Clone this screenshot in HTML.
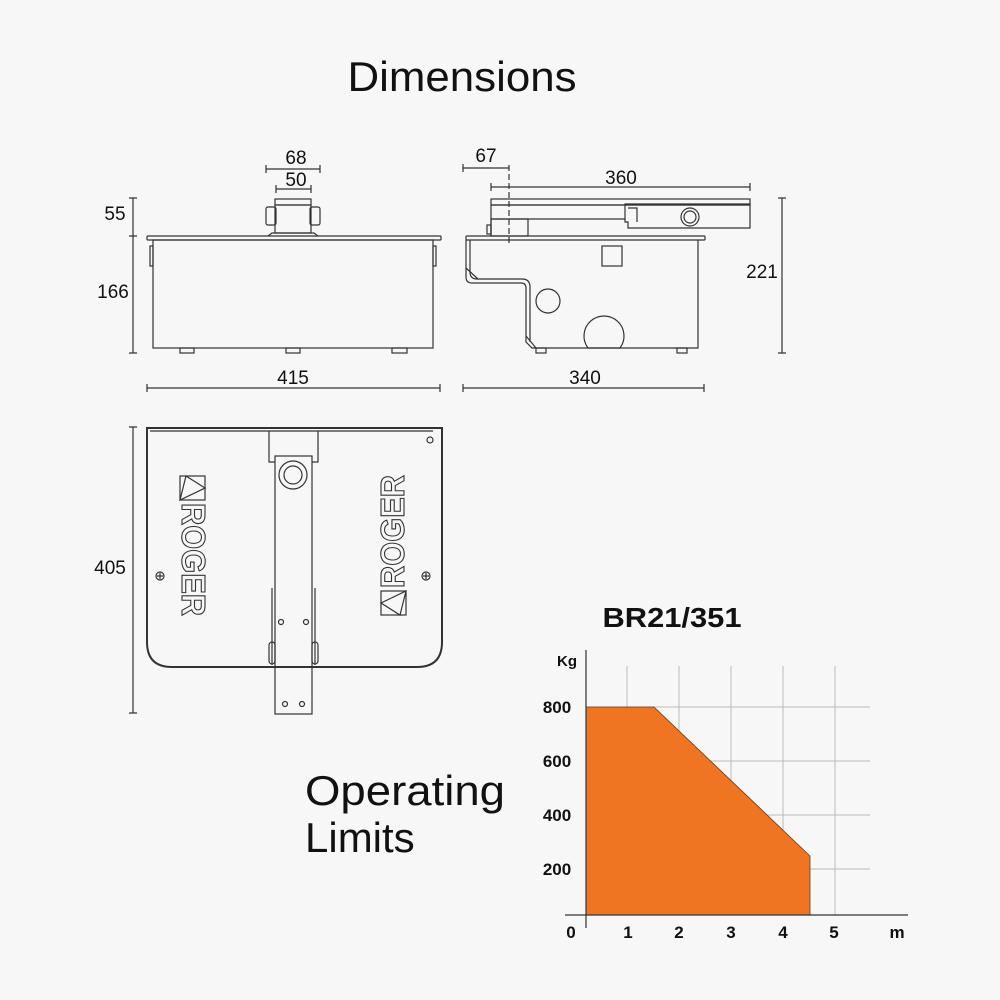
<!DOCTYPE html>
<html><head><meta charset="utf-8"><style>
html,body{margin:0;padding:0;background:#f7f7f7;}
svg{display:block;}
text{font-family:"Liberation Sans",sans-serif;}
</style></head><body>
<svg width="1000" height="1000" viewBox="0 0 1000 1000" xmlns="http://www.w3.org/2000/svg">
<rect width="1000" height="1000" fill="#f7f7f7"/>
<text x="462" y="91" font-size="42" text-anchor="middle" fill="#111" textLength="229" lengthAdjust="spacingAndGlyphs">Dimensions</text>

<g stroke="#333" stroke-width="1.2" fill="none">
<!-- FRONT VIEW -->
<rect x="147" y="236" width="294" height="4" rx="1"/>
<rect x="153" y="240" width="280" height="108"/>
<rect x="150" y="246" width="3" height="20"/>
<rect x="433" y="246" width="3" height="20"/>
<rect x="180" y="348" width="14" height="5"/>
<rect x="286" y="348" width="14" height="5"/>
<rect x="392" y="348" width="15" height="5"/>
<rect x="275" y="199" width="36" height="6"/>
<rect x="275" y="205" width="36" height="28"/>
<rect x="266" y="207" width="10" height="18" rx="2"/>
<rect x="310" y="207" width="10" height="18" rx="2"/>
<path d="M268 236 L272 233 L314 233 L318 236"/>
<path d="M133 198 V353 M129 198 H137 M129 236 H137 M129 353 H137"/>
<path d="M147 388 H440 M147 384 V392 M440 384 V392"/>
<path d="M266 169 H320 M266 165 V173 M320 165 V173"/>
<path d="M276 189 H311 M276 185 V193 M311 185 V193"/>

<!-- SIDE VIEW -->
<rect x="466" y="236" width="239" height="4" rx="1"/>
<path d="M698 240 V348 H532 L526 342 V288 Q526 283 521 283 H472 Q466 283 466 277 V240"/>
<path d="M470 240 V272 Q470 279 477 279 H522 Q530 279 530 287 V342"/>
<path d="M466 268 L478 279 M526 336 L536 348"/>
<rect x="536" y="348" width="10" height="5"/>
<rect x="677" y="348" width="10" height="5"/>
<rect x="602" y="246" width="20" height="20"/>
<circle cx="548" cy="301" r="12"/>
<path d="M588 348 A20 20 0 1 1 620 348 Z"/>
<rect x="491" y="199" width="259" height="6"/>
<path d="M491 205 V236 M491 219 H625 M491 205 H750"/>
<rect x="491" y="219" width="37" height="17"/>
<rect x="487" y="225" width="4" height="9"/>
<path d="M625 204 H750 V228 H628 V222 H625 Z"/>
<path d="M628 208 H637 V222"/>
<circle cx="690" cy="217" r="9"/>
<circle cx="690" cy="217" r="6"/>
<path d="M509 165 V245" stroke-dasharray="6 3"/>
<path d="M463 168 H509 M463 164 V172"/>
<path d="M491 187 H750 M491 183 V191 M750 183 V191"/>
<path d="M782 198 V353 M778 198 H786 M778 353 H786"/>
<path d="M463 388 H704 M463 384 V392 M704 384 V392"/>

<!-- TOP VIEW -->
<path d="M147 428 V642 Q147 667 172 667 H417 Q442 667 442 642 V428 Z" stroke-width="2"/>
<path d="M150 431 H433"/>
<path d="M133 427 V713 M129 427 H137 M129 713 H137"/>
<path d="M269 431 V462 H275 M318 431 V462 H312"/>
<rect x="275" y="456" width="37" height="258"/>
<circle cx="293" cy="475" r="14"/>
<circle cx="293" cy="475" r="9"/>
<path d="M272 588 V665 M315 588 V665"/>
<rect x="269" y="642" width="6" height="22" rx="3"/>
<rect x="312" y="642" width="6" height="22" rx="3"/>
<circle cx="281" cy="622" r="2.5"/><circle cx="306" cy="622" r="2.5"/>
<circle cx="285" cy="704" r="2.5"/><circle cx="302" cy="704" r="2.5"/>
<circle cx="160" cy="576" r="4"/><path d="M157 576 H163 M160 573 V579"/>
<circle cx="426" cy="576" r="4"/><path d="M423 576 H429 M426 573 V579"/>
<circle cx="430" cy="440" r="3"/>
<rect x="180" y="476" width="25" height="24"/>
<path d="M180 500 L186 476 L205 488 Z"/>
<rect x="381" y="591" width="25" height="24"/>
<path d="M406 591 L400 615 L381 603 Z"/>
</g>
<text transform="translate(182,503) rotate(90)" font-size="33" font-weight="bold" style="fill:none;stroke:#333;stroke-width:1.1" textLength="113" lengthAdjust="spacingAndGlyphs">ROGER</text>
<text transform="translate(404,588) rotate(-90)" font-size="33" font-weight="bold" style="fill:none;stroke:#333;stroke-width:1.1" textLength="113" lengthAdjust="spacingAndGlyphs">ROGER</text>

<g font-size="19" fill="#111">
<text x="115" y="220" text-anchor="middle">55</text>
<text x="113" y="298" text-anchor="middle">166</text>
<text x="293" y="384" text-anchor="middle">415</text>
<text x="296" y="164" text-anchor="middle">68</text>
<text x="296" y="186" text-anchor="middle">50</text>
<text x="486" y="162" text-anchor="middle">67</text>
<text x="621" y="184" text-anchor="middle">360</text>
<text x="762" y="278" text-anchor="middle">221</text>
<text x="585" y="384" text-anchor="middle">340</text>
<text x="110" y="574" text-anchor="middle">405</text>
</g>

<text x="305" y="805" font-size="42" fill="#111" textLength="200" lengthAdjust="spacingAndGlyphs">Operating</text>
<text x="305" y="852" font-size="42" fill="#111">Limits</text>
<text x="672" y="627" font-size="28" font-weight="bold" text-anchor="middle" fill="#111" textLength="139" lengthAdjust="spacingAndGlyphs">BR21/351</text>

<!-- CHART -->
<g stroke="#bbb" stroke-width="1" fill="none">
<path d="M627 666 V915 M679 666 V915 M731 666 V915 M783 666 V915 M835 666 V915"/>
<path d="M586 707 H870 M586 761 H870 M586 815 H870 M586 869 H870"/>
</g>
<path d="M586 707 H654 L810 856 V915 H586 Z" fill="#f07522" stroke="#444" stroke-width="0.8"/>
<path d="M586 650 V928 M565 915 H908" stroke="#333" stroke-width="1.2" fill="none"/>
<g font-size="17" font-weight="bold" text-anchor="middle" fill="#111">
<text x="567" y="666" font-size="15">Kg</text>
<text x="557" y="713">800</text>
<text x="557" y="767">600</text>
<text x="557" y="821">400</text>
<text x="557" y="875">200</text>
<text x="571" y="938">0</text>
<text x="628" y="938">1</text>
<text x="679" y="938">2</text>
<text x="731" y="938">3</text>
<text x="783" y="938">4</text>
<text x="834" y="938">5</text>
<text x="897" y="938">m</text>
</g>
</svg>
</body></html>
